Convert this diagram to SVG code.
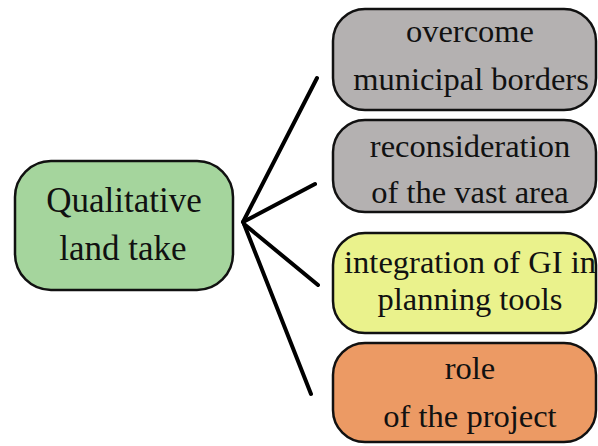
<svg xmlns="http://www.w3.org/2000/svg" width="598" height="446" viewBox="0 0 598 446">
<style>
.box{stroke:#111;stroke-width:2.5}
.t{font-family:'Liberation Serif','DejaVu Serif',serif;font-size:32.5px;fill:#111;text-anchor:middle}
.m{font-size:35px}
.c{stroke:#000;stroke-width:4;fill:none;stroke-linecap:round}
</style>
<rect width="598" height="446" fill="#fff"/>
<g id="connectors">
<line class="c" x1="243" y1="222" x2="317" y2="78"/>
<line class="c" x1="243" y1="222" x2="315" y2="184"/>
<line class="c" x1="244" y1="224" x2="318" y2="285"/>
<line class="c" x1="244" y1="224" x2="311" y2="394"/>
</g>
<g id="main">
<rect class="box" x="15" y="161" width="218" height="129" rx="36" fill="#a5d59d"/>
<text class="t m" x="124" y="212">Qualitative</text>
<text class="t m" x="123" y="260">land take</text>
</g>
<g id="n1">
<rect class="box" x="333" y="9" width="263" height="101" rx="32" fill="#b4b1b1"/>
<text class="t" x="470" y="42">overcome</text>
<text class="t" x="471" y="90">municipal borders</text>
</g>
<g id="n2">
<rect class="box" x="333" y="120" width="263" height="92" rx="32" fill="#b4b1b1"/>
<text class="t" x="470" y="157">reconsideration</text>
<text class="t" x="470" y="203">of the vast area</text>
</g>
<g id="n3">
<rect class="box" x="333" y="233" width="263" height="100" rx="32" fill="#eaf28c"/>
<text class="t" x="470" y="273">integration of GI in</text>
<text class="t" x="470" y="310">planning tools</text>
</g>
<g id="n4">
<rect class="box" x="333" y="343" width="263" height="99" rx="32" fill="#ec9a64"/>
<text class="t" x="470" y="379">role</text>
<text class="t" x="470" y="427">of the project</text>
</g>
</svg>
